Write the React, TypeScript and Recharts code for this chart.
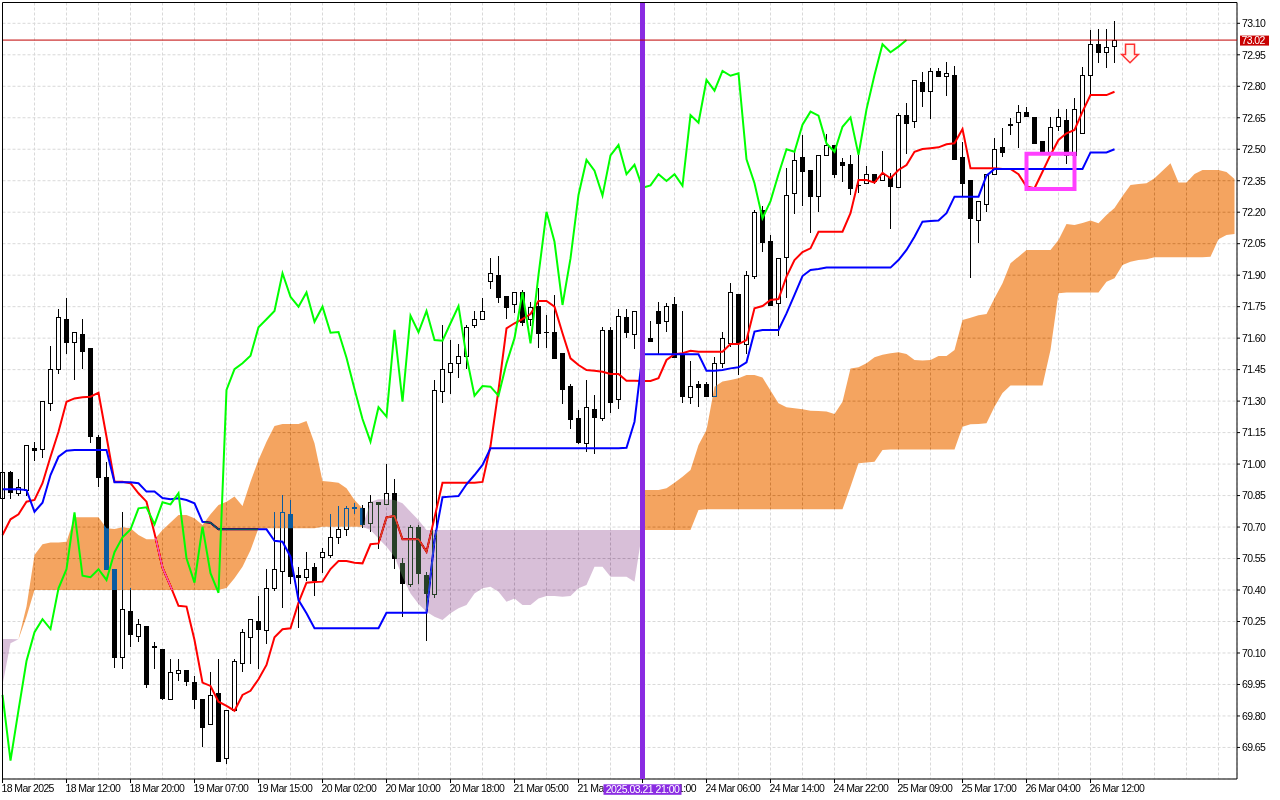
import React from 'react';
import {
  ComposedChart,
  Bar,
  Line,
  Area,
  XAxis,
  YAxis,
  CartesianGrid,
  ReferenceLine,
  ReferenceArea,
  ReferenceDot,
} from 'recharts';

const FONT = '"Liberation Sans", Arial, sans-serif';

// ---- H1 candles (index 0 = 18 Mar 2025 first visible bar) ----
const opens = [
  70.837, 70.961, 70.861, 70.876, 71.077, 71.070, 71.290, 71.452, 71.690, 71.580,
  71.620, 71.552, 71.130, 70.939, 70.499, 70.080, 70.300, 70.181, 70.229, 70.130,
  70.119, 69.880, 70.006, 70.019, 69.960, 69.881, 69.760, 69.908, 69.598, 69.828,
  70.051, 70.178, 70.252, 70.209, 70.408, 70.489, 70.761, 70.472, 70.461, 70.508,
  70.559, 70.567, 70.651, 70.689, 70.792, 70.792, 70.718, 70.818, 70.808, 70.861,
  70.530, 70.427, 70.702, 70.472, 70.380, 71.350, 71.437, 71.480, 71.516, 71.663,
  71.690, 71.872, 71.901, 71.801, 71.761, 71.818, 71.690, 71.753, 71.631, 71.628,
  71.528, 71.372, 71.218, 71.099, 71.261, 71.218, 71.639, 71.309, 71.699, 71.618,
  71.729, 71.600, 71.729, 71.682, 71.761, 71.520, 71.318, 71.382, 71.380, 71.326,
  71.480, 71.578, 71.810, 71.572, 71.896, 72.211, 72.063, 71.769, 71.988, 72.290,
  72.462, 72.401, 72.279, 72.471, 72.520, 72.438, 72.430, 72.330, 72.338, 72.381,
  72.353, 72.369, 72.319, 72.663, 72.636, 72.819, 72.779, 72.873, 72.850, 72.854,
  72.462, 72.353, 72.163, 72.238, 72.381, 72.509, 72.619, 72.628, 72.679, 72.652,
  72.539, 72.488, 72.611, 72.639, 72.473, 72.576, 72.854, 73.000, 72.962, 72.992,
];
const highs = [
  70.965, 70.965, 70.928, 71.091, 71.107, 71.301, 71.563, 71.737, 71.790, 71.628,
  71.690, 71.552, 71.139, 71.011, 70.499, 70.773, 70.408, 70.261, 70.229, 70.154,
  70.119, 70.071, 70.071, 70.019, 69.990, 69.881, 70.008, 70.071, 69.828, 70.071,
  70.213, 70.261, 70.372, 70.500, 70.773, 70.853, 70.829, 70.511, 70.580, 70.527,
  70.602, 70.762, 70.800, 70.800, 70.816, 70.805, 70.853, 70.818, 71.000, 70.928,
  70.553, 70.710, 70.710, 70.487, 71.401, 71.663, 71.591, 71.572, 71.663, 71.729,
  71.790, 71.980, 71.991, 71.801, 71.818, 71.829, 71.774, 71.837, 71.710, 71.806,
  71.528, 71.380, 71.258, 71.401, 71.329, 71.652, 71.652, 71.739, 71.737, 71.729,
  71.758, 71.682, 71.774, 71.766, 71.795, 71.729, 71.491, 71.396, 71.393, 71.512,
  71.628, 71.861, 71.810, 71.920, 72.211, 72.230, 72.091, 71.980, 72.411, 72.496,
  72.568, 72.401, 72.471, 72.573, 72.520, 72.457, 72.473, 72.473, 72.420, 72.381,
  72.492, 72.385, 72.671, 72.719, 72.830, 72.869, 72.886, 72.886, 72.917, 72.897,
  72.536, 72.353, 72.253, 72.381, 72.552, 72.600, 72.647, 72.711, 72.703, 72.652,
  72.539, 72.652, 72.690, 72.690, 72.743, 72.893, 73.068, 73.073, 73.073, 73.111,
];
const lows = [
  70.837, 70.837, 70.853, 70.853, 71.019, 71.035, 71.258, 71.435, 71.528, 71.407,
  71.459, 71.107, 70.897, 70.499, 70.035, 70.027, 70.135, 70.157, 69.937, 70.027,
  69.880, 69.880, 69.971, 69.948, 69.836, 69.658, 69.760, 69.587, 69.577, 69.828,
  70.016, 70.051, 70.027, 70.149, 70.400, 70.318, 70.435, 70.225, 70.448, 70.376,
  70.487, 70.559, 70.625, 70.662, 70.768, 70.700, 70.683, 70.599, 70.808, 70.504,
  70.278, 70.419, 70.432, 70.162, 70.368, 71.297, 71.337, 71.416, 71.459, 71.652,
  71.690, 71.837, 71.774, 71.697, 71.726, 71.663, 71.663, 71.559, 71.559, 71.507,
  71.290, 71.171, 71.099, 71.064, 71.051, 71.210, 71.250, 71.269, 71.607, 71.552,
  71.585, 71.588, 71.528, 71.635, 71.512, 71.297, 71.290, 71.278, 71.326, 71.326,
  71.464, 71.563, 71.428, 71.528, 71.885, 72.017, 71.758, 71.615, 71.797, 72.198,
  72.234, 72.107, 72.207, 72.471, 72.369, 72.350, 72.287, 72.295, 72.338, 72.338,
  72.353, 72.126, 72.319, 72.481, 72.607, 72.707, 72.647, 72.850, 72.758, 72.452,
  72.277, 71.893, 72.060, 72.206, 72.381, 72.469, 72.571, 72.509, 72.660, 72.528,
  72.488, 72.488, 72.592, 72.433, 72.473, 72.576, 72.758, 72.917, 72.890, 72.917,
];
const closes = [
  70.961, 70.869, 70.890, 71.091, 71.067, 71.301, 71.452, 71.699, 71.580, 71.628,
  71.537, 71.135, 70.937, 70.499, 70.080, 70.308, 70.189, 70.237, 69.951, 70.132,
  69.887, 70.008, 70.019, 69.968, 69.880, 69.749, 69.900, 69.587, 69.828, 70.062,
  70.199, 70.261, 70.214, 70.408, 70.499, 70.770, 70.468, 70.461, 70.499, 70.448,
  70.580, 70.651, 70.689, 70.789, 70.794, 70.713, 70.818, 70.808, 70.861, 70.551,
  70.435, 70.702, 70.480, 70.387, 71.353, 71.452, 71.480, 71.516, 71.652, 71.690,
  71.729, 71.909, 71.797, 71.750, 71.818, 71.678, 71.750, 71.626, 71.629, 71.507,
  71.358, 71.215, 71.107, 71.271, 71.226, 71.639, 71.297, 71.707, 71.628, 71.729,
  71.591, 71.588, 71.671, 71.753, 71.512, 71.326, 71.372, 71.369, 71.326, 71.480,
  71.600, 71.818, 71.575, 71.901, 72.202, 72.059, 71.758, 71.980, 72.282, 72.449,
  72.398, 72.279, 72.471, 72.520, 72.381, 72.426, 72.317, 72.328, 72.381, 72.349,
  72.381, 72.326, 72.663, 72.626, 72.830, 72.779, 72.873, 72.850, 72.862, 72.452,
  72.338, 72.171, 72.253, 72.381, 72.500, 72.488, 72.617, 72.679, 72.660, 72.528,
  72.488, 72.607, 72.652, 72.473, 72.690, 72.854, 73.000, 72.962, 72.989, 73.020,
];

// ---- Ichimoku lines ----
const tenkan = [
  70.662, 70.737, 70.761, 70.821, 70.829, 70.909, 71.035, 71.154, 71.297, 71.313,
  71.318, 71.321, 71.340, 71.130, 70.916, 70.916, 70.909, 70.861, 70.821, 70.670,
  70.507, 70.419, 70.325, 70.321, 70.162, 69.959, 69.943, 69.868, 69.848, 69.825,
  69.900, 69.920, 69.975, 70.043, 70.175, 70.213, 70.218, 70.340, 70.435, 70.438,
  70.440, 70.500, 70.538, 70.538, 70.530, 70.527, 70.618, 70.622, 70.746, 70.753,
  70.642, 70.642, 70.642, 70.583, 70.744, 70.911, 70.911, 70.911, 70.911, 70.911,
  70.915, 71.086, 71.353, 71.647, 71.671, 71.691, 71.715, 71.777, 71.777, 71.750,
  71.623, 71.504, 71.472, 71.448, 71.445, 71.440, 71.429, 71.429, 71.397, 71.397,
  71.396, 71.396, 71.409, 71.496, 71.524, 71.528, 71.540, 71.535, 71.535, 71.535,
  71.535, 71.572, 71.572, 71.591, 71.742, 71.753, 71.782, 71.786, 71.893, 71.972,
  72.010, 72.028, 72.107, 72.107, 72.107, 72.107, 72.195, 72.353, 72.353, 72.341,
  72.388, 72.362, 72.401, 72.425, 72.488, 72.501, 72.505, 72.509, 72.524, 72.528,
  72.596, 72.409, 72.409, 72.409, 72.409, 72.406, 72.406, 72.381, 72.322, 72.314,
  72.393, 72.473, 72.544, 72.576, 72.592, 72.679, 72.758, 72.758, 72.758, 72.774,
];
const kijun = [
  70.880, 70.880, 70.880, 70.876, 70.773, 70.816, 70.948, 71.035, 71.064, 71.067,
  71.067, 71.067, 71.067, 71.067, 70.913, 70.913, 70.913, 70.909, 70.869, 70.869,
  70.838, 70.832, 70.837, 70.829, 70.813, 70.725, 70.721, 70.689, 70.689, 70.689,
  70.689, 70.689, 70.689, 70.689, 70.635, 70.630, 70.559, 70.352, 70.289, 70.218,
  70.218, 70.218, 70.218, 70.218, 70.218, 70.218, 70.218, 70.218, 70.292, 70.292,
  70.292, 70.292, 70.292, 70.292, 70.638, 70.842, 70.845, 70.848, 70.904, 70.948,
  70.996, 71.075, 71.075, 71.075, 71.075, 71.075, 71.075, 71.075, 71.075, 71.075,
  71.075, 71.075, 71.075, 71.075, 71.075, 71.075, 71.075, 71.075, 71.078, 71.202,
  71.523, 71.523, 71.523, 71.523, 71.523, 71.523, 71.523, 71.523, 71.445, 71.445,
  71.448, 71.456, 71.461, 71.485, 71.631, 71.639, 71.639, 71.639, 71.718, 71.806,
  71.896, 71.925, 71.929, 71.936, 71.936, 71.936, 71.936, 71.936, 71.936, 71.936,
  71.936, 71.936, 71.972, 72.020, 72.083, 72.155, 72.158, 72.160, 72.195, 72.274,
  72.274, 72.274, 72.274, 72.374, 72.406, 72.406, 72.406, 72.406, 72.406, 72.406,
  72.406, 72.406, 72.406, 72.406, 72.406, 72.406, 72.485, 72.485, 72.485, 72.500,
];
// Senkou spans as displayed (already shifted 26 bars forward)
const spanA = [
  69.948, 70.146, 70.167, 70.321, 70.567, 70.618, 70.626, 70.627, 70.630, 70.747,
  70.747, 70.747, 70.747, 70.694, 70.691, 70.699, 70.694, 70.662, 70.642, 70.642,
  70.686, 70.722, 70.757, 70.757, 70.742, 70.710, 70.761, 70.805, 70.821, 70.845,
  70.800, 70.916, 71.019, 71.107, 71.181, 71.191, 71.191, 71.191, 71.205, 71.099,
  70.919, 70.916, 70.911, 70.885, 70.829, 70.789, 70.686, 70.646, 70.606, 70.559,
  70.463, 70.384, 70.333, 70.297, 70.273, 70.257, 70.289, 70.313, 70.329, 70.384,
  70.408, 70.416, 70.392, 70.344, 70.360, 70.329, 70.329, 70.360, 70.372, 70.372,
  70.368, 70.372, 70.408, 70.424, 70.511, 70.511, 70.463, 70.463, 70.463, 70.440,
  70.876, 70.876, 70.876, 70.885, 70.911, 70.940, 70.972, 71.091, 71.162, 71.369,
  71.393, 71.401, 71.409, 71.424, 71.424, 71.412, 71.350, 71.290, 71.271, 71.266,
  71.261, 71.254, 71.253, 71.250, 71.239, 71.297, 71.456, 71.461, 71.480, 71.509,
  71.521, 71.528, 71.533, 71.524, 71.496, 71.493, 71.496, 71.515, 71.515, 71.543,
  71.686, 71.697, 71.709, 71.715, 71.790, 71.861, 71.957, 71.988, 72.020, 72.020,
  72.020, 72.020, 72.068, 72.144, 72.139, 72.149, 72.160, 72.147, 72.187, 72.220,
  72.277, 72.330, 72.334, 72.338, 72.362, 72.398, 72.433, 72.341, 72.341, 72.382,
  72.401, 72.401, 72.401, 72.392, 72.358,
];
const spanB = [
  70.167, 70.167, 70.165, 70.273, 70.400, 70.400, 70.400, 70.400, 70.400, 70.400,
  70.400, 70.400, 70.400, 70.400, 70.400, 70.400, 70.400, 70.400, 70.400, 70.400,
  70.400, 70.400, 70.400, 70.400, 70.400, 70.400, 70.400, 70.400, 70.410, 70.456,
  70.511, 70.590, 70.694, 70.694, 70.694, 70.694, 70.694, 70.694, 70.694, 70.694,
  70.702, 70.702, 70.702, 70.702, 70.702, 70.702, 70.821, 70.832, 70.832, 70.829,
  70.813, 70.773, 70.734, 70.686, 70.686, 70.686, 70.686, 70.686, 70.686, 70.686,
  70.686, 70.686, 70.686, 70.686, 70.686, 70.686, 70.686, 70.686, 70.686, 70.686,
  70.686, 70.686, 70.686, 70.686, 70.686, 70.686, 70.686, 70.686, 70.686, 70.686,
  70.686, 70.686, 70.686, 70.686, 70.686, 70.686, 70.686, 70.781, 70.785, 70.785,
  70.785, 70.785, 70.785, 70.785, 70.785, 70.785, 70.785, 70.785, 70.785, 70.785,
  70.785, 70.785, 70.785, 70.785, 70.785, 70.785, 70.892, 71.004, 71.007, 71.011,
  71.067, 71.070, 71.070, 71.070, 71.070, 71.070, 71.070, 71.070, 71.070, 71.070,
  71.178, 71.190, 71.191, 71.194, 71.273, 71.339, 71.375, 71.375, 71.375, 71.375,
  71.375, 71.543, 71.814, 71.817, 71.817, 71.817, 71.817, 71.817, 71.869, 71.885,
  71.948, 71.964, 71.972, 71.976, 71.985, 71.985, 71.985, 71.985, 71.985, 71.985,
  71.985, 71.988, 72.071, 72.091, 72.096,
];
const CHIKOU_SHIFT = 26;

// ---- axes ----
// labels as they appear on the time scale (the two next to the marker box are
// partly hidden by it in the reference, so only their visible parts are shown)
const xLabels = [
  '18 Mar 2025', '18 Mar 12:00', '18 Mar 20:00', '19 Mar 07:00', '19 Mar 15:00',
  '20 Mar 02:00', '20 Mar 10:00', '20 Mar 18:00', '21 Mar 05:00', '21 Ma',
  '1:00', '24 Mar 06:00', '24 Mar 14:00', '24 Mar 22:00', '25 Mar 09:00',
  '25 Mar 17:00', '26 Mar 04:00', '26 Mar 12:00',
];
const LABEL_STEP = 8;
const GRID_STEP = 4;
const priceTicks = [
  73.1, 72.95, 72.8, 72.65, 72.5, 72.35, 72.2, 72.05, 71.9, 71.75, 71.6, 71.45,
  71.3, 71.15, 71.0, 70.85, 70.7, 70.55, 70.4, 70.25, 70.1, 69.95, 69.8, 69.65,
];
const X_DOMAIN = [0, 154.3125];
const Y_DOMAIN = [69.4997, 73.1991];

// ---- annotations ----
const lastPrice = 73.02;
const markerBar = 80;
const markerText = '2025.03.21 21:00';
const signalBox = { x1: 128, x2: 134, y1: 72.311, y2: 72.479 };
const arrowAt = { x: 140.94, y: 72.956 };

// difference-blend inks: on white they show as sandybrown / thistle
const CLOUD_UP_INK = '#0b5b9f';
const CLOUD_DOWN_INK = '#274027';

const data: any[] = spanA.map((a, i) => {
  const b = spanB[i];
  const has = i < closes.length;
  return {
    i,
    ohlc: has ? [lows[i], highs[i]] : null,
    o: has ? opens[i] : null,
    h: has ? highs[i] : null,
    l: has ? lows[i] : null,
    c: has ? closes[i] : null,
    tenkan: i < tenkan.length ? tenkan[i] : null,
    kijun: i < kijun.length ? kijun[i] : null,
    chikou: i + CHIKOU_SHIFT < closes.length ? closes[i + CHIKOU_SHIFT] : null,
    up: a >= b ? [b, a] : null,
    down: a < b ? [a, b] : null,
  };
});
for (let i = 0; i < data.length; i++) {
  if (data[i].down === null) {
    const prev = i > 0 && spanA[i - 1] < spanB[i - 1];
    const next = i < data.length - 1 && spanA[i + 1] < spanB[i + 1];
    if (prev || next) data[i].down = [spanB[i], spanB[i]];
  }
}

const xTicks: number[] = [];
for (let t = 0; t <= 152; t += GRID_STEP) xTicks.push(t);

function Candle(props: any) {
  const { x, y, width, height, payload } = props;
  if (!payload || payload.o == null || x == null || y == null || isNaN(y)) return <g />;
  const top = Math.min(y, y + height);
  const bottom = Math.max(y, y + height);
  const span = payload.h - payload.l;
  const toY = (v: number) => (span > 0 ? top + ((payload.h - v) / span) * (bottom - top) : top);
  const cx = Math.floor(x + width / 2) + 0.5;
  const yo = toY(payload.o);
  const yc = toY(payload.c);
  const bt = Math.round(Math.min(yo, yc)) + 0.5;
  const bb = Math.round(Math.max(yo, yc)) + 0.5;
  const bull = payload.c >= payload.o;
  return (
    <g>
      <line x1={cx} x2={cx} y1={Math.round(top)} y2={Math.round(bottom) + 1} stroke="#000" strokeWidth={1} />
      {bb - bt < 1 ? (
        <line x1={cx - 2.5} x2={cx + 2.5} y1={bt} y2={bt} stroke="#000" strokeWidth={1} />
      ) : (
        <rect x={cx - 2} y={bt} width={4} height={bb - bt} fill={bull ? '#fff' : '#000'} stroke="#000" strokeWidth={1} />
      )}
    </g>
  );
}

function XTick(props: any) {
  const { x, y, payload } = props;
  const v = payload.value;
  if (v % LABEL_STEP !== 0) return <g />;
  const label = xLabels[v / LABEL_STEP];
  if (!label) return <g />;
  const isMarker = v === markerBar;
  return (
    <g>
      <line x1={x} x2={x} y1={y - 4} y2={y} stroke="#000" strokeWidth={1} />
      {isMarker ? (
        <g>
          <text x={x + 53.5} y={y + 9} fontFamily={FONT} fontSize={10.5} letterSpacing={-0.6} fill="#000" textAnchor="end">
            {label}
          </text>
          <rect x={x - 39} y={y + 1.3} width={78} height={10.5} fill="#8a2be2" />
          <text x={x} y={y + 9.8} fontFamily={FONT} fontSize={10.5} letterSpacing={-0.5} fill="#fff" textAnchor="middle">
            {markerText}
          </text>
        </g>
      ) : (
        <text x={x - 1} y={y + 9} fontFamily={FONT} fontSize={10.5} letterSpacing={-0.6} fill="#000" textAnchor="start">
          {label}
        </text>
      )}
    </g>
  );
}

function YTick(props: any) {
  const { x, y, payload } = props;
  return (
    <text x={x} y={y + 3.8} fontFamily={FONT} fontSize={10.5} letterSpacing={-0.6} fill="#000" textAnchor="start">
      {Number(payload.value).toFixed(2)}
    </text>
  );
}

function PriceTag(props: any) {
  const vb = props.viewBox || {};
  const x = (vb.x || 0) + (vb.width || 0) + 3;
  const y = vb.y || 0;
  return (
    <g>
      <rect x={x} y={y - 4.5} width={29} height={10} fill="#c80000" />
      <text x={x + 1.5} y={y + 4} fontFamily={FONT} fontSize={10.5} letterSpacing={-0.6} fill="#fff">
        {lastPrice.toFixed(2)}
      </text>
    </g>
  );
}

function Arrow(props: any) {
  const { cx, cy } = props;
  if (cx == null || cy == null) return <g />;
  const pts = [
    [-4.5, -9.2], [4.5, -9.2], [4.5, 1], [8.3, 1], [0, 9.2], [-8.3, 1], [-4.5, 1],
  ].map(([dx, dy]) => `${cx + dx},${cy + dy}`).join(' ');
  return <polygon points={pts} fill="#fff4ee" stroke="#ff3030" strokeWidth={1.5} strokeLinejoin="miter" />;
}

export default function App() {
  return (
    <div style={{ position: 'absolute', left: 0, top: 0, width: 1280, height: 800, background: '#fff' }}>
      <style>{`.ichimoku-cloud path, .recharts-area path { mix-blend-mode: difference; }`}</style>
      <ComposedChart
        width={1280}
        height={800}
        data={data}
        margin={{ top: 2.5, right: 0, bottom: 0, left: 2.5 }}
      >
        <CartesianGrid fill="#fff" stroke="#d9d9d9" strokeDasharray="3 2" />
        <XAxis
          dataKey="i"
          type="number"
          domain={X_DOMAIN}
          ticks={xTicks}
          interval={0}
          height={21}
          tickLine={false}
          tickSize={4}
          tickMargin={0}
          axisLine={{ stroke: '#000' }}
          tick={<XTick />}
        />
        <YAxis
          orientation="right"
          type="number"
          domain={Y_DOMAIN}
          ticks={priceTicks}
          interval={0}
          width={43}
          tickSize={3}
          tickMargin={2}
          axisLine={{ stroke: '#000' }}
          tickLine={{ stroke: '#000' }}
          tick={<YTick />}
        />
        <Bar dataKey="ohlc" barSize={5} shape={Candle} isAnimationActive={false} zIndex={300} />
        <Line dataKey="tenkan" stroke="#ff0000" strokeWidth={2} dot={false} activeDot={false} isAnimationActive={false} zIndex={310} />
        <Line dataKey="kijun" stroke="#0000ff" strokeWidth={2} dot={false} activeDot={false} isAnimationActive={false} zIndex={320} />
        <Area
          dataKey="up"
          type="linear"
          stroke="none"
          fill={CLOUD_UP_INK}
          fillOpacity={1}
          className="ichimoku-cloud"
          dot={false}
          activeDot={false}
          isAnimationActive={false}
          zIndex={350}
        />
        <Area
          dataKey="down"
          type="linear"
          stroke="none"
          fill={CLOUD_DOWN_INK}
          fillOpacity={1}
          className="ichimoku-cloud"
          dot={false}
          activeDot={false}
          isAnimationActive={false}
          zIndex={350}
        />
        <Line dataKey="chikou" stroke="#00ff00" strokeWidth={2} dot={false} activeDot={false} isAnimationActive={false} zIndex={400} />
        <ReferenceLine x={markerBar} stroke="#8a2be2" strokeWidth={5} zIndex={600} />
        <ReferenceLine y={lastPrice} stroke="#c00000" strokeWidth={1} zIndex={610} label={<PriceTag />} />
        <ReferenceLine x={X_DOMAIN[0]} stroke="#000" strokeWidth={1} zIndex={620} />
        <ReferenceLine y={Y_DOMAIN[1]} stroke="#000" strokeWidth={1} zIndex={620} />
        <ReferenceArea
          x1={signalBox.x1}
          x2={signalBox.x2}
          y1={signalBox.y1}
          y2={signalBox.y2}
          fill="none"
          fillOpacity={0}
          stroke="#ff40ff"
          strokeWidth={4}
          zIndex={630}
        />
        <ReferenceDot x={arrowAt.x} y={arrowAt.y} r={0} shape={Arrow} zIndex={640} />
      </ComposedChart>
    </div>
  );
}
